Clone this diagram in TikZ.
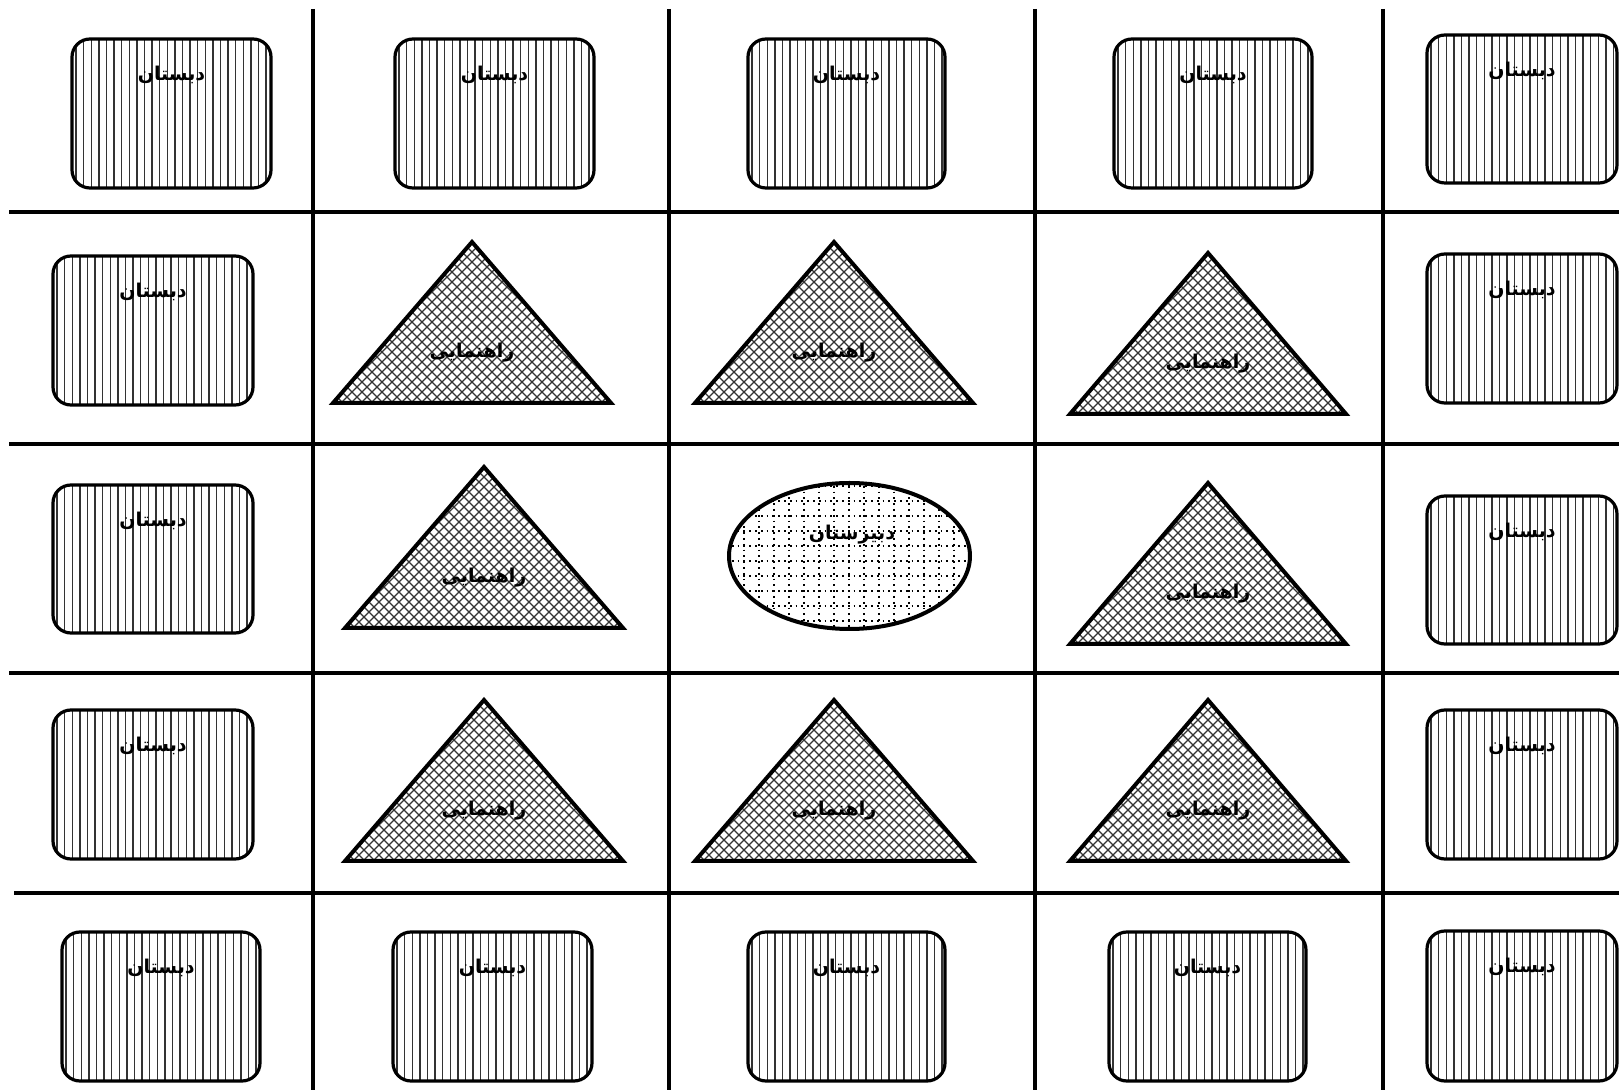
\documentclass[tikz,border=0pt]{standalone}
\usepackage{fontspec}
\TeXXeTstate=1
\newfontfamily\arabicfont[Script=Arabic]{DejaVu Sans}
\newcommand{\txtDab}{\beginR دبستان\endR}
\newcommand{\txtRah}{\beginR راهنمایی\endR}
\newcommand{\txtDabir}{\beginR دبیرستان\endR}
\tikzset{
  gridline/.style={line width=2pt},
  rbox/.style={line width=1.6pt, rounded corners=9pt},
  hatch/.style={line width=0.7pt, black!80},
  tribox/.style={line width=2pt, line join=miter},
  lbl/.style={font=\arabicfont\bfseries\fontsize{9.5}{11}\selectfont, inner sep=0pt},
}
\begin{document}
\begin{tikzpicture}[x=0.5pt,y=-0.5pt]
\useasboundingbox (0,0) rectangle (1619,1090);
% grid lines
\foreach \gx [count=\i] in {313,669,1035,1383}
  \draw[gridline] (\gx,9) coordinate (vt\i) -- (\gx,1090) coordinate (vb\i);
\foreach \gy [count=\i] in {212,444,673}
  \draw[gridline] (9,\gy) coordinate (hl\i) -- (1619,\gy) coordinate (hr\i);
\draw[gridline] (14,893) coordinate (hl4) -- (1619,893) coordinate (hr4);
% rounded boxes
\foreach \xa/\ya/\xb/\yb [count=\i] in {
  72/39/271/188, 395/39/594/188, 748/39/945/188, 1114/39/1312/188, 1427/35/1617/183,
  53/256/253/405, 1427/254/1617/403,
  53/485/253/633, 1427/496/1617/644,
  53/710/253/859, 1427/710/1617/859,
  62/932/260/1081, 393/932/592/1081, 748/932/945/1081, 1109/932/1306/1081, 1427/931/1617/1081}
{
  \begin{scope}
    \clip[rounded corners=9pt] (\xa,\ya) rectangle (\xb,\yb);
    \foreach \k in {0,...,26}
      \draw[hatch] ({\xa+4+\k*7.6},\ya) -- ({\xa+4+\k*7.6},\yb);
  \end{scope}
  \draw[rbox] (\xa,\ya) rectangle (\xb,\yb);
  \node[lbl] (d\i) at ({(\xa+\xb)/2},{\ya+36}) {\txtDab};
}
% triangles
\foreach \ax/\ay/\hw/\by [count=\i] in {
  472/242/139/403, 834/242/139/403, 1208/253/138/414,
  484/467/139/628, 1208/483/138/644,
  484/700/139/861, 834/700/139/861, 1208/700/138/861}
{
  \begin{scope}
    \clip (\ax,\ay) -- ({\ax+\hw},\by) -- ({\ax-\hw},\by) -- cycle;
    \foreach \k in {-34,...,34} {
      \draw[hatch, line width=0.6pt] ({\ax+\k*10-200},{\ay-200}) -- ({\ax+\k*10+200},{\ay+200});
      \draw[hatch, line width=0.6pt] ({\ax+\k*10-200},{\ay+200}) -- ({\ax+\k*10+200},{\ay-200});
    }
  \end{scope}
  \draw[tribox] (\ax,\ay) -- ({\ax+\hw},\by) -- ({\ax-\hw},\by) -- cycle;
  \node[lbl] (r\i) at (\ax,{\ay+111}) {\txtRah};
}
% ellipse
\begin{scope}
  \clip (849.5,556) ellipse [x radius=60.25pt, y radius=36.5pt];
  \foreach \k in {0,...,16}
    \draw[dotted, line width=0.9pt] ({729+\k*15},480) -- ({729+\k*15},632);
  \foreach \k in {0,...,10}
    \draw[dotted, line width=0.9pt] (726,{486+\k*15}) -- (973,{486+\k*15});
\end{scope}
\draw[line width=2pt] (849.5,556) ellipse [x radius=60.25pt, y radius=36.5pt];
\node[lbl] (s1) at (852,535) {\txtDabir};
\end{tikzpicture}
\end{document}
